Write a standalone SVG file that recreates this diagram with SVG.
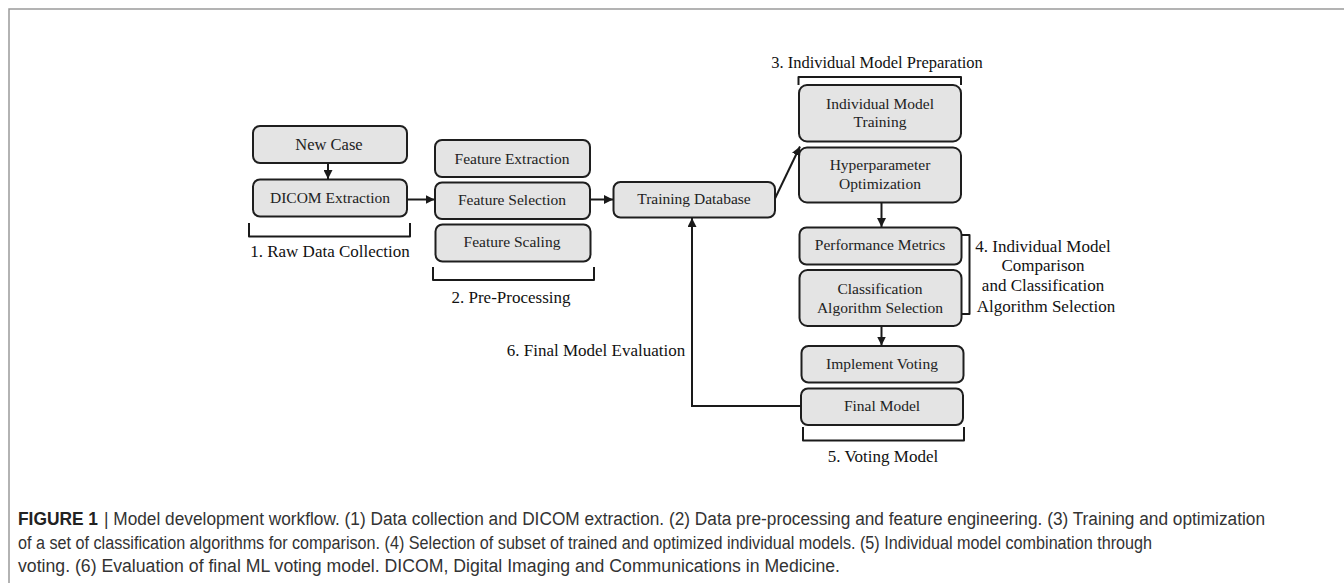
<svg xmlns="http://www.w3.org/2000/svg" width="1344" height="583" viewBox="0 0 1344 583">
  <defs>
    <marker id="arrow" viewBox="0 0 10 10" refX="10" refY="5" markerWidth="9" markerHeight="9" markerUnits="userSpaceOnUse" orient="auto">
      <path d="M0,0 L10,5 L0,10 z" fill="#1a1a1a"/>
    </marker>
    <style>
      .box { fill: #e4e4e4; stroke: #1e1e1e; stroke-width: 2; }
      .bt { font-family: "Liberation Serif", "Times New Roman", serif; font-size: 15.5px; fill: #222; text-anchor: middle; }
      .lbl { font-family: "Liberation Serif", "Times New Roman", serif; font-size: 17px; fill: #111; text-anchor: middle; }
      .conn { fill: none; stroke: #1a1a1a; stroke-width: 2; }
      .brk { fill: none; stroke: #1a1a1a; stroke-width: 2; stroke-linejoin: round; }
      .cap { font-family: "Liberation Sans", Arial, sans-serif; font-size: 18px; fill: #333; }
      .capb { font-family: "Liberation Sans", Arial, sans-serif; font-size: 18px; font-weight: bold; fill: #222; }
    </style>
  </defs>

  <rect width="1344" height="583" fill="#ffffff"/>

  <!-- figure frame -->
  <path d="M9,583 V9 H1344" fill="none" stroke="#9a9a9a" stroke-width="1.5"/>

  <!-- stage 1: raw data collection -->
  <g id="new-case">
    <rect class="box" x="253" y="126" width="154" height="37" rx="7"/>
    <text class="bt" x="329" y="149.5" style="font-size:16.5px">New Case</text>
  </g>
  <g id="dicom-extraction">
    <rect class="box" x="253" y="179.5" width="154" height="37" rx="7"/>
    <text class="bt" x="330" y="202.5">DICOM Extraction</text>
  </g>

  <!-- stage 2: pre-processing -->
  <g id="feature-extraction">
    <rect class="box" x="435" y="140" width="155" height="37" rx="7"/>
    <text class="bt" x="512" y="163.5">Feature Extraction</text>
  </g>
  <g id="feature-selection">
    <rect class="box" x="435" y="182.5" width="155" height="36.5" rx="7"/>
    <text class="bt" x="512" y="205">Feature Selection</text>
  </g>
  <g id="feature-scaling">
    <rect class="box" x="435.5" y="224.5" width="155" height="37" rx="7"/>
    <text class="bt" x="512" y="247">Feature Scaling</text>
  </g>

  <!-- training database -->
  <g id="training-database">
    <rect class="box" x="613.5" y="182" width="161.5" height="35.5" rx="7"/>
    <text class="bt" x="694" y="203.5">Training Database</text>
  </g>

  <!-- stage 3: individual model preparation -->
  <g id="individual-model-training">
    <rect class="box" x="799" y="85" width="162" height="56.5" rx="8"/>
    <text class="bt" x="880" y="108.5">Individual Model</text>
    <text class="bt" x="880" y="127">Training</text>
  </g>
  <g id="hyperparameter-optimization">
    <rect class="box" x="799" y="147.5" width="162" height="55" rx="8"/>
    <text class="bt" x="880" y="170">Hyperparameter</text>
    <text class="bt" x="880" y="189">Optimization</text>
  </g>

  <!-- stage 4: comparison and selection -->
  <g id="performance-metrics">
    <rect class="box" x="799.5" y="227.5" width="162" height="37" rx="7"/>
    <text class="bt" x="880" y="250">Performance Metrics</text>
  </g>
  <g id="classification-algorithm-selection">
    <rect class="box" x="799.5" y="270" width="162" height="56" rx="8"/>
    <text class="bt" x="880" y="293.5">Classification</text>
    <text class="bt" x="880" y="312.5">Algorithm Selection</text>
  </g>

  <!-- stage 5: voting model -->
  <g id="implement-voting">
    <rect class="box" x="801.5" y="346" width="162" height="36.5" rx="7"/>
    <text class="bt" x="882" y="369">Implement Voting</text>
  </g>
  <g id="final-model">
    <rect class="box" x="801" y="388.5" width="162" height="36.5" rx="7"/>
    <text class="bt" x="882" y="410.5">Final Model</text>
  </g>

  <!-- stage brackets and labels -->
  <g id="stage-labels">
    <path class="brk" d="M249,223 V236.5 H410 V223"/>
    <text class="lbl" x="330" y="256.5">1. Raw Data Collection</text>

    <path class="brk" d="M433,267 V280 H594 V267"/>
    <text class="lbl" x="511" y="303">2. Pre-Processing</text>

    <path class="brk" d="M798.5,85 V77 H961 V85"/>
    <text class="lbl" x="877" y="68" style="font-size:16.5px">3. Individual Model Preparation</text>

    <path class="brk" d="M962,235 H969.5 V314 H962"/>
    <text class="lbl" x="1043" y="251.5">4. Individual Model</text>
    <text class="lbl" x="1043" y="271">Comparison</text>
    <text class="lbl" x="1043" y="291">and Classification</text>
    <text class="lbl" x="1046" y="311.5">Algorithm Selection</text>

    <path class="brk" d="M803,427 V440.5 H964 V427"/>
    <text class="lbl" x="883" y="461.5">5. Voting Model</text>

    <text class="lbl" x="596" y="356">6. Final Model Evaluation</text>
  </g>

  <!-- connectors -->
  <g id="connectors">
    <line class="conn" x1="328" y1="163" x2="328" y2="179" marker-end="url(#arrow)"/>
    <line class="conn" x1="407" y1="199.5" x2="434.5" y2="199.5" marker-end="url(#arrow)"/>
    <line class="conn" x1="590" y1="199.5" x2="613" y2="199.5" marker-end="url(#arrow)"/>
    <line class="conn" x1="775" y1="198.5" x2="800" y2="146.5" marker-end="url(#arrow)"/>
    <line class="conn" x1="881.5" y1="202.5" x2="881.5" y2="227" marker-end="url(#arrow)"/>
    <line class="conn" x1="881.5" y1="326" x2="881.5" y2="345.5" marker-end="url(#arrow)"/>
    <polyline class="conn" points="801,406 692,406 692,218" marker-end="url(#arrow)"/>
  </g>

  <!-- caption -->
  <g id="caption">
    <text class="capb" x="18" y="525" textLength="80" lengthAdjust="spacingAndGlyphs">FIGURE 1</text>
    <text class="cap" x="104" y="525" textLength="1161" lengthAdjust="spacingAndGlyphs">| Model development workflow. (1) Data collection and DICOM extraction. (2) Data pre-processing and feature engineering. (3) Training and optimization</text>
    <text class="cap" x="18" y="549" textLength="1134" lengthAdjust="spacingAndGlyphs">of a set of classification algorithms for comparison. (4) Selection of subset of trained and optimized individual models. (5) Individual model combination through</text>
    <text class="cap" x="18" y="572" textLength="822" lengthAdjust="spacingAndGlyphs">voting. (6) Evaluation of final ML voting model. DICOM, Digital Imaging and Communications in Medicine.</text>
  </g>
</svg>
